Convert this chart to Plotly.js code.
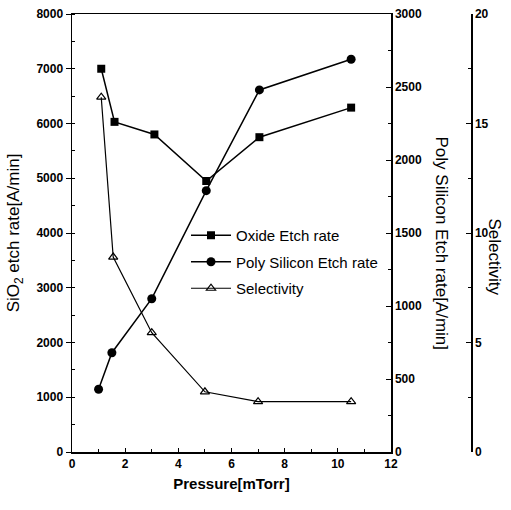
<!DOCTYPE html>
<html>
<head>
<meta charset="utf-8">
<script src="https://cdn.plot.ly/plotly-3.0.1.min.js"></script>
<style>html,body{margin:0;padding:0;background:#fff;}#chart{width:511px;height:510px;}</style>
</head>
<body>
<div id="chart"></div>
<script>
// Data
const oxidePressure = [1.1, 1.6, 3.1, 5.05, 7.05, 10.5];
const oxideRate = [7000, 6030, 5800, 4950, 5750, 6290];
const polyPressure = [1.0, 1.5, 3.0, 5.05, 7.05, 10.5];
const polyRate = [430, 680, 1050, 1790, 2480, 2690];
const selPressure = [1.1, 1.55, 3.0, 5.0, 7.0, 10.5];
const selectivity = [16.2, 8.9, 5.45, 2.75, 2.3, 2.3];

const names = ["Oxide Etch rate", "Poly Silicon Etch rate", "Selectivity"];
const xTitle = "Pressure[mTorr]";
const y1Title = "SiO<sub>2</sub> etch rate[A/min]";
const y2Title = "Poly Silicon Etch rate[A/min]";
const y3Title = "Selectivity";

const F = "Liberation Sans, Arial, sans-serif";
const tickFont = {family: F, size: 12, color: "#000", weight: "bold"};

const traces = [
  {x: oxidePressure, y: oxideRate, name: names[0], mode: "lines+markers", yaxis: "y",
   legendgroup: "a", line: {color: "#000", width: 1.5},
   marker: {symbol: "square", size: 8, color: "#000"}},
  {x: polyPressure, y: polyRate, name: names[1], mode: "lines+markers", yaxis: "y2",
   legendgroup: "b", line: {color: "#000", width: 1.5},
   marker: {symbol: "circle", size: 9, color: "#000"}},
  {x: selPressure, y: selectivity, name: names[2], mode: "lines+markers", yaxis: "y3",
   legendgroup: "c", line: {color: "#000", width: 1.2},
   marker: {symbol: "triangle-up-open", size: 8, color: "#000", line: {width: 1.2}}}
];

const plotW = 408;
const xEnd = 319 / plotW;

const layout = {
  width: 511, height: 510,
  margin: {l: 72, r: 31, t: 14, b: 58},
  paper_bgcolor: "#fff", plot_bgcolor: "#fff",
  showlegend: true,
  legend: {x: (186 - 72) / plotW, y: (452 - 219) / 438, xanchor: "left", yanchor: "top",
           bgcolor: "rgba(0,0,0,0)", font: {family: F, size: 15, color: "#000"},
           tracegroupgap: 4, itemwidth: 40},
  xaxis: {domain: [0, xEnd], range: [0, 12], dtick: 2, tick0: 0,
          showline: true, linecolor: "#000", linewidth: 1.5, mirror: true,
          ticks: "inside", ticklen: 4, tickcolor: "#000",
          minor: {dtick: 1, ticks: "inside", ticklen: 3, tickcolor: "#000"},
          showgrid: false, zeroline: false, tickfont: tickFont,
          title: {text: xTitle, font: {family: F, size: 15, color: "#000", weight: "bold"}, standoff: 8}},
  yaxis: {range: [0, 8000], dtick: 1000, tick0: 0,
          showline: true, linecolor: "#000", linewidth: 1.5,
          ticks: "outside", ticklen: 5, tickcolor: "#000",
          minor: {dtick: 500, ticks: "inside", ticklen: 3, tickcolor: "#000"},
          showgrid: false, zeroline: false, tickfont: tickFont,
          title: {text: y1Title, font: {family: F, size: 17, color: "#000"}, standoff: 12}},
  yaxis2: {range: [0, 3000], dtick: 500, tick0: 0, overlaying: "y", side: "right", anchor: "x",
           showline: true, linecolor: "#000", linewidth: 1.5,
           ticks: "inside", ticklen: 5, tickcolor: "#000",
           minor: {dtick: 250, ticks: "inside", ticklen: 3, tickcolor: "#000"},
           showgrid: false, zeroline: false, tickfont: tickFont},
  yaxis3: {range: [0, 20], dtick: 5, tick0: 0, overlaying: "y", side: "right", anchor: "free",
           position: (471 - 72) / plotW,
           showline: true, linecolor: "#000", linewidth: 1.5,
           ticks: "inside", ticklen: 5, tickcolor: "#000",
           minor: {dtick: 2.5, ticks: "inside", ticklen: 3, tickcolor: "#000"},
           showgrid: false, zeroline: false, tickfont: tickFont},
  annotations: [
    {text: y2Title, xref: "paper", yref: "paper", x: (441 - 72) / plotW, y: (452 - 243.5) / 438,
     xanchor: "center", yanchor: "middle",
     showarrow: false, textangle: 90, font: {family: F, size: 17, color: "#000"}},
    {text: y3Title, xref: "paper", yref: "paper", x: (494 - 72) / plotW, y: (452 - 256.5) / 438,
     xanchor: "center", yanchor: "middle",
     showarrow: false, textangle: 90, font: {family: F, size: 17, color: "#000"}}
  ]
};

Plotly.newPlot("chart", traces, layout, {displayModeBar: false, staticPlot: true});
</script>
</body>
</html>
